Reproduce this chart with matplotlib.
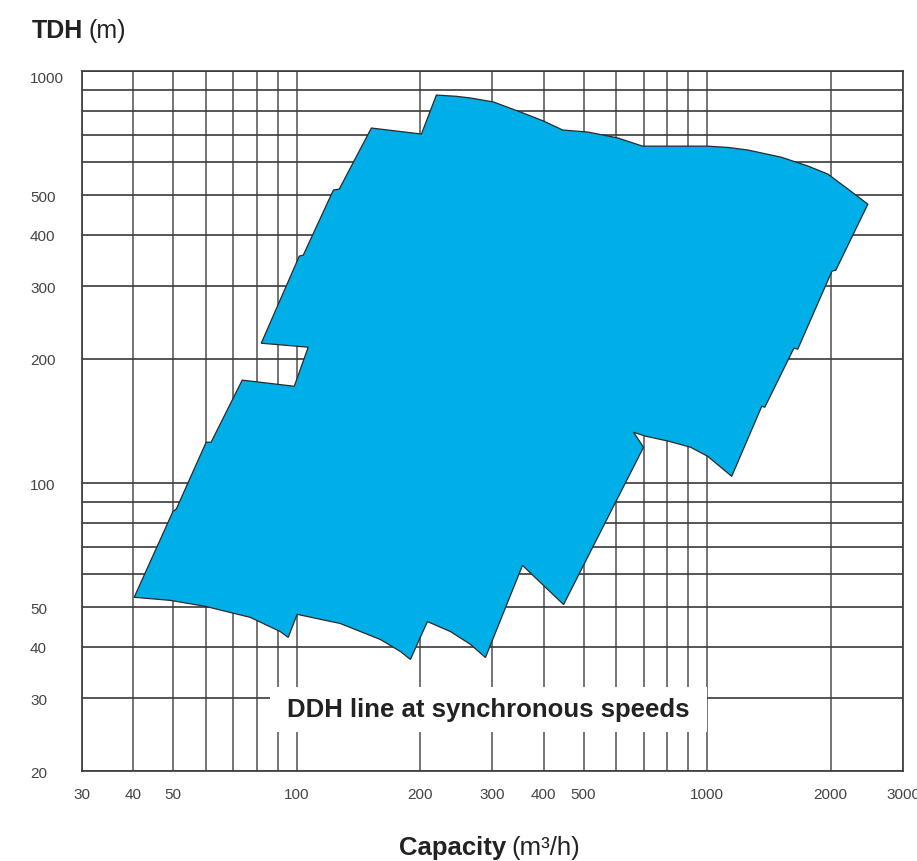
import matplotlib.pyplot as plt
from matplotlib.patches import Rectangle

plt.rcParams['font.family'] = ['Liberation Sans', 'DejaVu Sans']

# outline of the pump coverage area, clockwise from the left tip
capacity = [40.2, 50.0, 50.9, 60.2, 61.9, 73.7, 98.7, 106.7, 82.0, 101.5,
            103.8, 122.9, 127.0, 152.1, 201.4, 219, 245, 265, 301.7, 351, 399.6,
            444.6, 511.5, 605, 696.6, 815, 1003, 1130, 1256, 1512, 1760, 1969,
            2203, 2464, 2059, 2014, 1663, 1627, 1382, 1359, 1148, 1003,
            912, 806, 708, 662, 700, 447, 355, 288.4, 265, 237,
            208.3, 189.3, 179, 160, 127.8, 100.3, 95.4, 91.2, 77.1, 59.9,
            49.2]
head = [52.8, 85.4, 86.4, 125.6, 125.6, 177.7, 171.7, 213.6, 218.4, 355.3,
        357.3, 514, 516.8, 727, 703, 874, 868, 860, 841, 795, 756,
        719, 711, 688, 657, 657, 657, 652, 643, 618, 588, 562,
        517, 475, 328.6, 326.7, 211.3, 212.4, 152.7, 153.6, 103.8, 116.1,
        122.1, 126.3, 129.9, 132.8, 122.1, 50.7, 63.1, 37.7, 40.6, 43.6,
        46.1, 37.3, 39.0, 41.7, 45.6, 48.0, 42.2, 43.6, 47.2, 50.2,
        51.9]

x_grid = [30, 40, 50, 60, 70, 80, 90, 100, 200, 300, 400, 500, 600, 700,
          800, 900, 1000, 2000, 3000]
y_grid = [20, 30, 40, 50, 60, 70, 80, 90, 100, 200, 300, 400, 500, 600,
          700, 800, 900, 1000]
x_ticks = [30, 40, 50, 100, 200, 300, 400, 500, 1000, 2000, 3000]
y_ticks = [20, 30, 40, 50, 100, 200, 300, 400, 500, 1000]

fig = plt.figure(figsize=(9.17, 8.62), dpi=100)
ax = fig.add_axes([0.0894, 0.1044, 0.8953, 0.8121])
ax.set_xscale('log')
ax.set_yscale('log')
ax.set_xlim(30, 3000)
ax.set_ylim(20, 1000)

for xv in x_grid:
    ax.axvline(xv, color='#6a6a6a', lw=1.3, zorder=1)
for yv in y_grid:
    ax.axhline(yv, color='#3a3a3a', lw=1.2, zorder=1)

ax.fill(capacity, head, facecolor='#00aee8', edgecolor='#2a2a2a', lw=0.9, zorder=3)

for s in ax.spines.values():
    s.set_color('#3a3a3a')
    s.set_linewidth(1.2)

ax.minorticks_off()
ax.set_xticks(x_ticks)
ax.set_xticklabels([str(v) for v in x_ticks])
ax.set_yticks(y_ticks)
ax.set_yticklabels([str(v) for v in y_ticks])
ax.tick_params(axis='x', length=0, pad=11.5, labelsize=11, labelcolor='#444444')
ax.tick_params(axis='y', length=0, pad=37.4, labelsize=11, labelcolor='#444444')
for lab in ax.get_yticklabels():
    lab.set_horizontalalignment('left')
    lab.set_verticalalignment('center_baseline')
ax.get_yticklabels()[-1].set_verticalalignment('top')

# label box over the grid
ax.add_patch(Rectangle((0.229, 0.0557), 0.532, 0.0643, transform=ax.transAxes,
                       facecolor='white', edgecolor='none', zorder=4))
ax.text(0.495, 0.0879, 'DDH line at synchronous speeds', transform=ax.transAxes,
        ha='center', va='center', fontsize=18.5, fontweight='bold',
        color='#222222', zorder=5)

# axis titles with bold and regular parts
fig.canvas.draw()
r = fig.canvas.get_renderer()
t1 = fig.text(32 / 917, 1 - 38 / 862, 'TDH', fontsize=18, fontweight='bold',
              color='#222222', va='baseline')
bb = t1.get_window_extent(r)
fig.text((bb.x1 + 5) / 917, 1 - 38 / 862, '(m)', fontsize=18, color='#222222',
         va='baseline')

t2 = fig.text(399 / 917, 1 - 855 / 862, 'Capacity', fontsize=18.5, fontweight='bold',
              color='#222222', va='baseline')
bb2 = t2.get_window_extent(r)
fig.text((bb2.x1 + 5) / 917, 1 - 855 / 862, '(m³/h)', fontsize=18.5,
         color='#222222', va='baseline')

fig.savefig('out.png', dpi=100)
